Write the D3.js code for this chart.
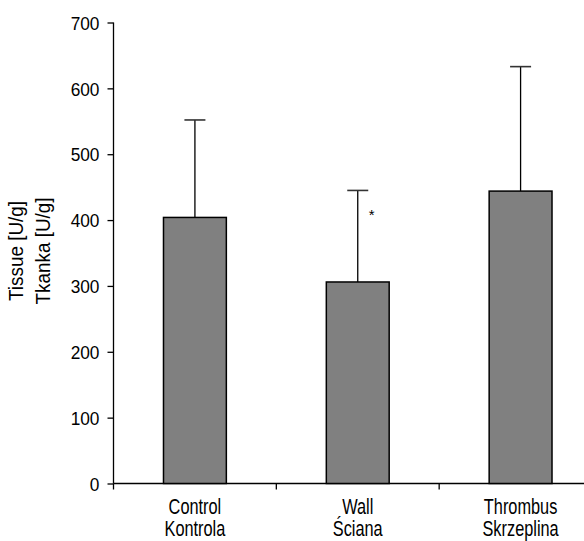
<!DOCTYPE html>
<html><head><meta charset="utf-8">
<script src="https://cdn.jsdelivr.net/npm/d3@7"></script>
<style>
body{margin:0;background:#fff;}
text{font-family:"Liberation Sans",Arial,sans-serif;}
</style></head>
<body><svg id="c" width="584" height="541"></svg>
<script>
const categoriesEn = ["Control", "Wall", "Thrombus"];
const categoriesPl = ["Kontrola", "Ściana", "Skrzeplina"];
const means = [404, 306, 444];
const errUpper = [552, 445, 633];
const significance = ["", "*", ""];
const yTicks = [0, 100, 200, 300, 400, 500, 600, 700];

const svg = d3.select("#c");
const x0 = 113.5, x1 = 602, yBase = 483.5, yTop = 22.5;
const x = d3.scaleBand().domain(categoriesEn).range([x0, x1]).paddingInner(0.614).paddingOuter(0.307);
const y = d3.scaleLinear().domain([0, 700]).range([yBase, yTop]);

// y axis
const ya = svg.append("g").attr("transform", `translate(${x0},0)`)
  .call(d3.axisLeft(y).tickValues(yTicks).tickSize(6).tickPadding(4));
ya.select(".domain").attr("d", `M0,${yTop}V${yBase}`).attr("stroke", "#000").attr("stroke-width", 1.3);
ya.selectAll(".tick line").attr("stroke", "#000").attr("stroke-width", 1.3);
ya.selectAll(".tick text").remove();
ya.selectAll(".tick").append("g").attr("transform", "translate(-14,0) scale(0.93,1)")
  .append("text").attr("text-anchor", "end").attr("dy", "0.36em")
  .attr("font-size", 18.6).attr("fill", "#000")
  .attr("font-family", '"Liberation Sans",Arial,sans-serif')
  .text(d => d);

// x axis line
svg.append("line").attr("x1", x0).attr("x2", 584).attr("y1", yBase).attr("y2", yBase)
  .attr("stroke", "#000").attr("stroke-width", 1.3);
// category boundary ticks
const step = x.step();
const bounds = categoriesEn.map((d, i) => x0 + i * step);
svg.selectAll(".bt").data(bounds).join("line")
  .attr("x1", d => d).attr("x2", d => d).attr("y1", yBase).attr("y2", yBase + 6)
  .attr("stroke", "#000").attr("stroke-width", 1.3);

// error bars
const g = svg.append("g");
categoriesEn.forEach((c, i) => {
  const cx = x(c) + x.bandwidth() / 2;
  g.append("line").attr("x1", cx).attr("x2", cx).attr("y1", y(means[i])).attr("y2", y(errUpper[i]))
    .attr("stroke", "#000").attr("stroke-width", 1.3);
  g.append("line").attr("x1", cx - 10.5).attr("x2", cx + 10.5).attr("y1", y(errUpper[i])).attr("y2", y(errUpper[i]))
    .attr("stroke", "#333").attr("stroke-width", 1.6);
});

// bars
svg.selectAll(".bar").data(means).join("rect")
  .attr("x", (d, i) => x(categoriesEn[i]))
  .attr("y", d => y(d))
  .attr("width", x.bandwidth())
  .attr("height", d => yBase - y(d))
  .attr("fill", "#808080").attr("stroke", "#000").attr("stroke-width", 1.5);

// significance
svg.selectAll(".sig").data(significance).join("text")
  .attr("x", (d, i) => x(categoriesEn[i]) + x.bandwidth() / 2 + 14)
  .attr("y", (d, i) => y(errUpper[i]) + 30)
  .attr("font-size", 15).attr("text-anchor", "middle").attr("fill", "#000").text(d => d);

// category labels (two-line, one text element)
categoriesEn.forEach((c, i) => {
  const cx = x(c) + x.bandwidth() / 2;
  const t = svg.append("g").attr("transform", `translate(${cx},0) scale(0.76,1)`)
    .append("text").attr("text-anchor", "middle").attr("font-size", 21.5).attr("fill", "#000");
  t.append("tspan").attr("x", 0).attr("y", 514.5).text(c);
  t.append("tspan").attr("x", 0).attr("y", 536.5).text(categoriesPl[i]);
});

// y title
const yt = svg.append("g").attr("transform", "translate(0,251) rotate(-90) scale(0.97,1)")
  .append("text").attr("text-anchor", "middle").attr("font-size", 19.5).attr("fill", "#000");
yt.append("tspan").attr("x", 0).attr("y", 23.5).text("Tissue [U/g]");
yt.append("tspan").attr("x", 0).attr("y", 50).text("Tkanka [U/g]");
</script></body></html>
